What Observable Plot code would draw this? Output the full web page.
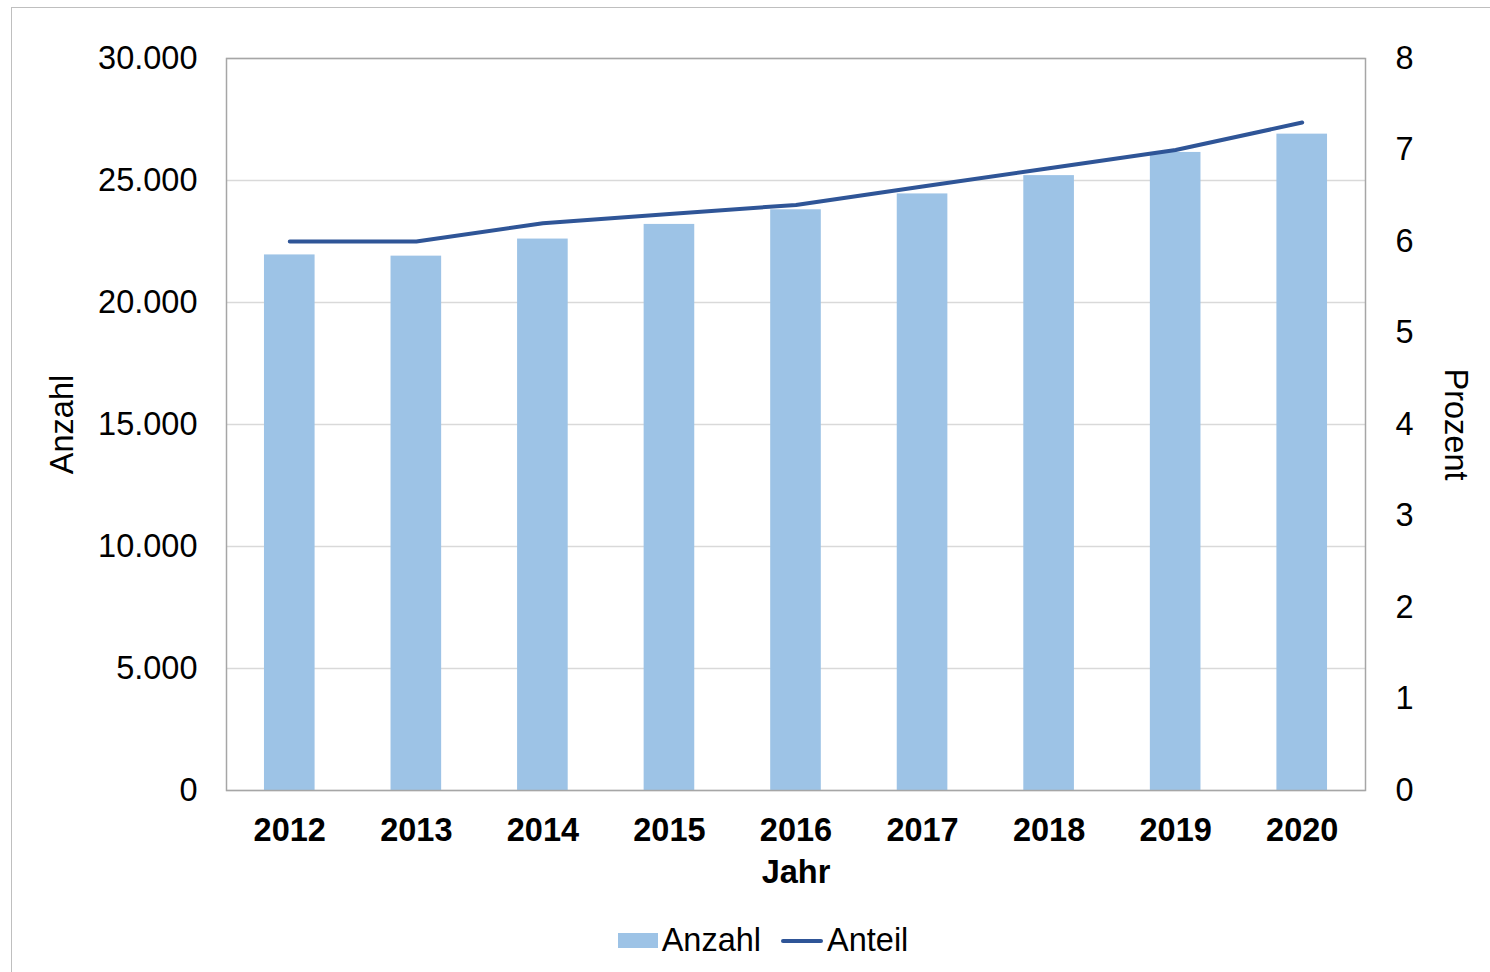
<!DOCTYPE html>
<html>
<head>
<meta charset="utf-8">
<script src="https://cdn.jsdelivr.net/npm/d3@7"></script>
<script src="https://cdn.jsdelivr.net/npm/@observablehq/plot@0.6"></script>
<style>
  html, body { margin: 0; padding: 0; background: #fff; }
  body { width: 1490px; height: 972px; position: relative; overflow: hidden; font-family: "Liberation Sans", Arial, sans-serif; }
  #border { position: absolute; left: 11px; top: 7px; width: 1490px; height: 1000px; border: 1.5px solid #bfbfbf; box-sizing: border-box; }
  #chart { position: absolute; left: 0; top: 0; }
  #legend { position: absolute; top: 922px; left: 0; width: 1490px; display: flex; justify-content: center; align-items: center; font-size: 32.5px; color: #000; padding-left: 36px; box-sizing: border-box; }
  .item { display: flex; align-items: center; margin: 0 10px; }
  .sw-bar { width: 40px; height: 15px; background: #9dc3e6; margin-right: 4px; }
  .sw-line { width: 42px; height: 4px; background: #2f5597; border-radius: 2px; margin-right: 4px; }
</style>
</head>
<body>
<div id="border"></div>
<div id="chart"></div>
<div id="legend">
  <div class="item"><div class="sw-bar"></div><span>Anzahl</span></div>
  <div class="item"><div class="sw-line"></div><span>Anteil</span></div>
</div>
<script>
const years = ["2012","2013","2014","2015","2016","2017","2018","2019","2020"];
const anzahl = [21950, 21900, 22600, 23200, 23800, 24450, 25200, 26150, 26900];
const anteil = [6.0, 6.0, 6.2, 6.3, 6.4, 6.6, 6.8, 7.0, 7.3];
const leftTicks = [0, 5000, 10000, 15000, 20000, 25000, 30000];
const rightTicks = [0, 1, 2, 3, 4, 5, 6, 7, 8];

const ratio = 30000 / 8;
const data = years.map((y, i) => ({year: y, anzahl: anzahl[i], anteil: anteil[i]}));
const fmt = d3.formatLocale({decimal: ",", thousands: ".", grouping: [3], currency: ["", "€"]}).format(",");

const chart = Plot.plot({
  width: 1490,
  height: 900,
  marginLeft: 226,
  marginRight: 125,
  marginTop: 58,
  marginBottom: 110,
  style: {fontFamily: "'Liberation Sans', Arial, sans-serif", background: "transparent"},
  x: {domain: years, paddingInner: 0.6, paddingOuter: 0.3, round: false, label: null},
  y: {domain: [0, 30000], label: null},
  marks: [
    Plot.gridY(leftTicks, {stroke: "#d9d9d9", strokeOpacity: 1, strokeWidth: 1.5}),
    Plot.barY(data, {x: "year", y: "anzahl", fill: "#9dc3e6"}),
    Plot.line(data, {x: "year", y: d => d.anteil * ratio, stroke: "#2f5597", strokeWidth: 4, strokeLinecap: "round", strokeLinejoin: "round"}),
    Plot.frame({stroke: "#a6a6a6", strokeWidth: 1.5}),
    Plot.axisY(leftTicks, {anchor: "left", tickSize: 0, tickPadding: 29, fontSize: 32.5, fill: "#000", tickFormat: fmt, label: null}),
    Plot.axisY(rightTicks.map(t => t * ratio), {anchor: "right", tickSize: 0, tickPadding: 30, fontSize: 32.5, fill: "#000", tickFormat: v => String(Math.round(v / ratio)), label: null}),
    Plot.axisX({anchor: "bottom", tickSize: 0, tickPadding: 27, fontSize: 32.5, fontWeight: "bold", fill: "#000", label: null}),
    Plot.text(["Jahr"], {frameAnchor: "bottom", dy: 92, fontSize: 32.5, fontWeight: "bold", fill: "#000"}),
    Plot.text(["Anzahl"], {frameAnchor: "left", textAnchor: "middle", dx: -164, rotate: -90, fontSize: 32.5, fill: "#000"}),
    Plot.text(["Prozent"], {frameAnchor: "right", textAnchor: "middle", dx: 90, rotate: 90, fontSize: 32.5, fill: "#000"})
  ]
});
document.getElementById("chart").appendChild(chart);
</script>
</body>
</html>
